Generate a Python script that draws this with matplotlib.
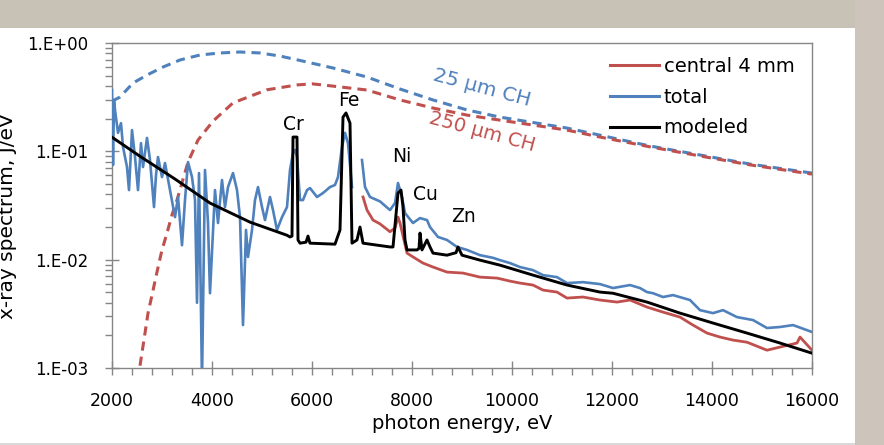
import numpy as np
import matplotlib.pyplot as plt
from matplotlib.patches import Rectangle
from matplotlib.lines import Line2D

plt.rcParams['font.family'] = ['DejaVu Sans']

# measured spectrum, whole detector ("total")
total_e = [2000, 2020, 2040, 2060, 2120, 2180, 2220, 2300, 2340, 2400, 2460, 2520, 2580, 2620,
           2700, 2760, 2840, 2880, 2920, 3000, 3060, 3160, 3260, 3320, 3400, 3460, 3520, 3600,
           3660, 3700, 3740, 3800, 3860, 3920, 3960, 4060, 4120, 4200, 4260, 4320, 4420, 4500,
           4560, 4620, 4680, 4720, 4800, 4860, 4920, 5000, 5060, 5160, 5220, 5300, 5400, 5500,
           5560, 5620, 5660, 5700, 5760, 5820, 5900, 5960, 6100, 6220, 6360, 6460, 6520, 6600,
           6660, 6720, 6800, 6900, 7000, 7060, 7160, 7360, 7560, 7660, 7720, 7800, 7860, 8020,
           8160, 8300, 8360, 8520, 8700, 8900, 9100, 9360, 9620, 9760, 9960, 10160, 10420, 10620,
           10900, 11100, 11420, 11760, 12020, 12360, 12560, 12700, 12820, 13020, 13220, 13560,
           13760, 14020, 14220, 14500, 14820, 15100, 15360, 15620, 16000]
total_v = [0.368, 0.0747, 0.298, 0.241, 0.148, 0.182, 0.110, 0.0716, 0.0439, 0.157, 0.0886, 0.0439, 0.119, 0.0716,
           0.133, 0.0831, 0.0306, 0.0604, 0.0886, 0.0579, 0.078, 0.0439, 0.0247, 0.0379, 0.0136, 0.0355, 0.0796, 0.0579,
           0.0355, 0.0040, 0.063, 0.00075, 0.0672, 0.0218, 0.0049, 0.0439, 0.0218, 0.0543, 0.0306, 0.0468, 0.063, 0.0439,
           0.0247, 0.00249, 0.0188, 0.0106, 0.0188, 0.0355, 0.0468, 0.0306, 0.0232, 0.0379, 0.0287, 0.0188, 0.0247, 0.0306,
           0.0672, 0.0965, 0.103, 0.0886, 0.0355, 0.0355, 0.0439, 0.0458, 0.0379, 0.0412, 0.0468, 0.0489, 0.0579, 0.110,
           0.148, 0.119, 0.0468, np.nan, 0.0831, 0.0468, 0.0379, 0.0345, 0.0287, 0.0333, 0.051, 0.0379, 0.0269, 0.0218,
           0.0242, 0.0232, 0.0200, 0.0162, 0.0152, 0.0131, 0.0123, 0.0110, 0.0104, 0.0099, 0.0093, 0.00855, 0.0080, 0.0072,
           0.0069, 0.00608, 0.0062, 0.00595, 0.00547, 0.00583, 0.00547, 0.00502, 0.0049, 0.00452, 0.00471, 0.00424,
           0.00342, 0.00321, 0.00342, 0.00295, 0.00277, 0.00234, 0.00239, 0.00249, 0.00215]

# central 4 mm of the detector
central_e = [7020, 7100, 7220, 7360, 7560, 7660, 7720, 7760, 7900, 8020, 8220, 8420, 8700, 9020, 9360,
             9700, 9960, 10160, 10420, 10620, 10900, 11100, 11420, 11760, 12100, 12360, 12700, 13020,
             13360, 13620, 13900, 14160, 14420, 14700, 15100, 15360, 15700, 15760, 16000]
central_v = [0.0379, 0.0287, 0.0232, 0.0214, 0.0181, 0.0196, 0.0247, 0.0218, 0.0115, 0.0106, 0.0093, 0.00855, 0.00768, 0.00752, 0.0069,
             0.00676, 0.00634, 0.00608, 0.00583, 0.00524, 0.00502, 0.00442, 0.00452, 0.00424, 0.00406, 0.00424, 0.00365, 0.00328,
             0.00295, 0.00249, 0.0021, 0.00193, 0.00181, 0.00173, 0.00146, 0.00156, 0.0017, 0.00193, 0.00146]

# modeled spectrum
model_e = [2000, 2560, 3260, 3960, 4760, 5500, 5560, 5600, 5620, 5700, 5720, 5760, 5880, 5920, 5960, 6460,
           6560, 6620, 6680, 6760, 6800, 6900, 6960, 7020, 7560, 7620, 7720, 7780, 7820, 7860, 7900, 8100,
           8140, 8160, 8200, 8300, 8360, 8420, 8700, 8880, 8920, 9000, 9360, 9760, 10420, 11100, 11760,
           12020, 12700, 13360, 14020, 14700, 15360, 16000]
model_v = [0.135, 0.090, 0.0555, 0.0333, 0.0222, 0.0168, 0.0162, 0.0165, 0.1355, 0.1355, 0.0152, 0.0142, 0.0145, 0.0165, 0.0142, 0.0139,
           0.0188, 0.207, 0.226, 0.182, 0.0142, 0.0152, 0.0200, 0.0142, 0.0131, 0.0131, 0.0412, 0.0439, 0.0306, 0.0152, 0.0123, 0.0123,
           0.0127, 0.0176, 0.0123, 0.0152, 0.0131, 0.0115, 0.0110, 0.0116, 0.0131, 0.0110, 0.0099, 0.0089, 0.0072, 0.00583, 0.00502,
           0.0049, 0.00406, 0.00321, 0.0026, 0.0021, 0.0017, 0.00137]

# source spectrum seen through 25 um and 250 um CH
ch25_e = [2000, 2160, 2420, 2700, 3020, 3360, 3760, 4160, 4560, 4960, 5360, 5760, 6420, 7100, 7760, 8420,
          9100, 9760, 11100, 11760, 12760, 13760, 14760, 16000]
ch25_v = [0.29, 0.317, 0.427, 0.506, 0.60, 0.697, 0.775, 0.809, 0.826, 0.809, 0.758, 0.69, 0.588, 0.485, 0.376, 0.298,
          0.241, 0.207, 0.164, 0.141, 0.112, 0.0925, 0.0763, 0.063]
ch250_e = [2560, 2660, 2720, 2820, 2900, 3000, 3100, 3200, 3300, 3520, 3720, 4020, 4420, 5100, 5700, 6000,
           6420, 7100, 7760, 8420, 9100, 9760, 11100, 11760, 12760, 13760, 14760, 16000]
ch250_v = [0.00105, 0.0021, 0.0032, 0.0052, 0.0077, 0.0123, 0.0176, 0.0259, 0.0355, 0.0796, 0.127, 0.19, 0.28, 0.37, 0.41, 0.42,
           0.40, 0.368, 0.298, 0.251, 0.216, 0.194, 0.157, 0.1355, 0.11, 0.0906, 0.075, 0.0616]

labels = ['central 4 mm', 'total', 'modeled']
elements = ['Cr', 'Fe', 'Ni', 'Cu', 'Zn']
element_e = [5620, 6740, 7800, 8260, 9020]
element_v = [0.177, 0.293, 0.0905, 0.0397, 0.025]

blue = '#4f81bd'
red = '#c0504d'
grey = '#868686'

fig = plt.figure(figsize=(8.84, 4.45), dpi=100)
fig.patch.set_facecolor('white')
# page background around the slide
fig.patches.append(Rectangle((0, 1 - 28 / 445), 1, 28 / 445, transform=fig.transFigure,
                             facecolor='#c8c1b5', edgecolor='none', zorder=0))
fig.patches.append(Rectangle((855 / 884, 0), 29 / 884, 1, transform=fig.transFigure,
                             facecolor='#cdc5bc', edgecolor='none', zorder=0))
fig.patches.append(Rectangle((0, 0), 855 / 884, 2 / 445, transform=fig.transFigure,
                             facecolor='#d9d9d9', edgecolor='none', zorder=0))

ax = fig.add_axes([112 / 884, 77 / 445, 700 / 884, 325 / 445])

ax.plot(ch25_e, ch25_v, color=blue, lw=2.2, dashes=(3, 2), zorder=2)
ax.plot(ch250_e, ch250_v, color=red, lw=2.2, dashes=(3, 2), zorder=2)
ax.plot(central_e, central_v, color=red, lw=2.0, zorder=3)
ax.plot(total_e, total_v, color=blue, lw=1.9, zorder=4)
ax.plot(model_e, model_v, color='black', lw=2.1, zorder=5)

ax.set_yscale('log')
ax.set_xlim(2000, 16000)
ax.set_ylim(1e-3, 1)
ax.set_xticks(np.arange(2000, 16001, 2000))
ax.set_xticks(np.arange(2000, 16001, 400), minor=True)
ax.set_yticks([1e-3, 1e-2, 1e-1, 1])
ax.set_yticklabels(['1.E-03', '1.E-02', '1.E-01', '1.E+00'])
ax.yaxis.set_minor_formatter(plt.NullFormatter())

for s in ax.spines.values():
    s.set_color(grey)
    s.set_linewidth(1)
ax.tick_params(which='major', direction='inout', length=10, width=1, color=grey)
ax.tick_params(which='minor', direction='out', length=5, width=1, color=grey)
ax.tick_params(axis='x', which='major', labelsize=12.5, pad=12)
ax.tick_params(axis='y', which='major', labelsize=12, pad=12)

ax.set_xlabel('photon energy, eV', fontsize=14, labelpad=3)
fig.text(8 / 884, 1 - 216 / 445, 'x-ray spectrum, J/eV', rotation=90, fontsize=14.5,
         ha='center', va='center')

for name, e, v in zip(elements, element_e, element_v):
    ax.text(e, v, name, fontsize=13.5, ha='center', va='center', zorder=6)

ax.text(9400, 0.384, '25 \u00b5m CH', color=blue, fontsize=14.5, rotation=-15,
        ha='center', va='center')
ax.text(9400, 0.15, '250 \u00b5m CH', color=red, fontsize=14, rotation=-15,
        ha='center', va='center')

handles = [Line2D([], [], color=c, lw=2.2) for c in (red, blue, 'black')]
ax.legend(handles, labels, loc='upper left', bbox_to_anchor=(498 / 700, (368 - 57) / 325),
          frameon=False, fontsize=14, handlelength=2.5, handletextpad=0.26,
          labelspacing=0.6, borderaxespad=0, borderpad=0)

fig.savefig('out.png', dpi=100)
